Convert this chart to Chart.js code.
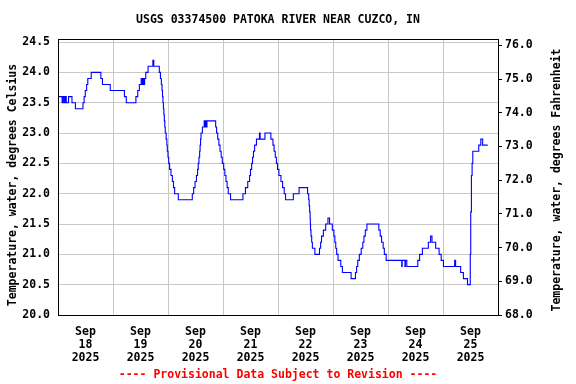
<!DOCTYPE html>
<html>
<head>
<meta charset="utf-8">
<script src="https://cdn.jsdelivr.net/npm/chart.js@4.4.1/dist/chart.umd.min.js"></script>
<style>
  html, body { margin: 0; padding: 0; background: #fff; }
  #grafica { display: block; }
</style>
</head>
<body>
<canvas id="grafica" width="576" height="384"></canvas>
<script>
const stationTitle = "USGS 03374500 PATOKA RIVER NEAR CUZCO, IN";
const leftAxisTitle = "Temperature, water, degrees Celsius";
const rightAxisTitle = "Temperature, water, degrees Fahrenheit";
const footerNote = "---- Provisional Data Subject to Revision ----";

const dayMonth = "Sep";
const dayYear = "2025";
const dayNumbers = ["18", "19", "20", "21", "22", "23", "24", "25"];

// horas desde Sep 18 00:00, y temperatura (°C) desde ese momento
const obsHour = [
  0, 1.8, 2.3, 2.8, 3.3, 3.6, 4.6, 6.1, 7.6, 10.9, 11.4, 11.9, 12.5, 13.0, 14.5, 18.7, 19.4, 22.8,
  29.0, 29.8, 34.0, 34.8, 35.5, 36.3, 36.8, 37.1, 37.5, 37.8, 38.3, 39.3, 41.4, 41.8,
  44.2, 44.7, 45.1, 45.4, 45.6, 45.8, 46.0, 46.2, 46.4, 46.6, 46.8, 47.2, 47.5, 47.7,
  48.0, 48.3, 48.7, 49.3, 49.9, 50.4, 50.9, 52.5, 58.6, 59.2, 59.8, 60.4, 60.9, 61.2,
  61.5, 61.8, 62.0, 62.2, 62.4, 63.0, 63.8, 64.1, 64.4, 64.7, 65.0, 68.8, 69.2, 69.7,
  70.2, 70.7, 71.2, 71.7, 72.3, 72.8, 73.3, 73.8, 74.3, 75.3, 80.7, 81.8, 82.8, 83.6,
  84.0, 84.5, 84.9, 85.3, 85.8, 86.6, 87.9, 88.2, 90.3, 92.9, 93.8, 94.3, 94.8, 95.3,
  95.8, 96.4, 97.3, 98.0, 98.7, 99.3, 102.7, 105.2, 108.9, 109.4, 109.6, 109.8, 110.0,
  110.1, 110.2, 110.4, 110.7, 111.0, 112.1, 114.1, 114.6, 115.0, 115.8, 116.8, 117.8,
  118.5, 119.7, 120.4, 120.8, 121.2, 121.6, 122.2, 123.4, 124.1, 127.9, 129.8, 130.3,
  130.8, 131.5, 132.3, 133.0, 133.5, 134.1, 134.8, 140.0, 140.6, 141.2, 141.9, 142.4,
  143.2, 150.0, 150.2, 151.4, 151.6, 152.2, 157.0, 157.8, 159.0, 161.6, 162.6, 163.2,
  164.8, 166.3, 167.2, 168.2, 173.1, 173.5, 175.7, 176.9, 178.7, 179.9, 180.1, 180.4,
  180.7, 181.0, 183.6, 184.5, 185.3, 187.5
];
const tempC = [
  23.6, 23.5, 23.6, 23.5, 23.6, 23.5, 23.6, 23.5, 23.4, 23.5, 23.6, 23.7, 23.8, 23.9, 24.0, 23.9, 23.8, 23.7,
  23.6, 23.5, 23.6, 23.7, 23.8, 23.9, 23.8, 23.9, 23.8, 23.9, 24.0, 24.1, 24.2, 24.1,
  24.0, 23.9, 23.8, 23.7, 23.6, 23.5, 23.4, 23.3, 23.2, 23.1, 23.0, 22.9, 22.8, 22.7,
  22.6, 22.5, 22.4, 22.3, 22.2, 22.1, 22.0, 21.9, 22.0, 22.1, 22.2, 22.3, 22.4, 22.5,
  22.6, 22.7, 22.8, 22.9, 23.0, 23.1, 23.2, 23.1, 23.2, 23.1, 23.2, 23.1, 23.0, 22.9,
  22.8, 22.7, 22.6, 22.5, 22.4, 22.3, 22.2, 22.1, 22.0, 21.9, 22.0, 22.1, 22.2, 22.3,
  22.4, 22.5, 22.6, 22.7, 22.8, 22.9, 23.0, 22.9, 23.0, 22.9, 22.8, 22.7, 22.6, 22.5,
  22.4, 22.3, 22.2, 22.1, 22.0, 21.9, 22.0, 22.1, 22.0, 21.9, 21.8, 21.7, 21.6,
  21.5, 21.4, 21.3, 21.2, 21.1, 21.0, 21.1, 21.2, 21.3, 21.4, 21.5, 21.6,
  21.5, 21.4, 21.3, 21.2, 21.1, 21.0, 20.9, 20.8, 20.7, 20.6, 20.7, 20.8,
  20.9, 21.0, 21.1, 21.2, 21.3, 21.4, 21.5, 21.4, 21.3, 21.2, 21.1, 21.0,
  20.9, 20.8, 20.9, 20.8, 20.9, 20.8, 20.9, 21.0, 21.1, 21.2, 21.3, 21.2,
  21.1, 21.0, 20.9, 20.8, 20.9, 20.8, 20.7, 20.6, 20.5, 21.0, 21.7, 22.3,
  22.5, 22.7, 22.8, 22.9, 22.8, 22.8
];

const celsiusMin = 20.0;
const celsiusMax = 24.55;
const hourMax = 192;

const fuente = "'DejaVu Sans Mono', 'Liberation Mono', monospace";
const grisGrilla = "#c8c8c8";

// marco negro y títulos de ejes girados (el derecho también se lee de abajo hacia arriba)
const marco = {
  id: "marco",
  afterDraw(chart) {
    const { ctx, chartArea: a } = chart;
    ctx.save();
    ctx.strokeStyle = "#000";
    ctx.lineWidth = 1;
    ctx.strokeRect(a.left + 0.5, a.top + 0.5, a.right - a.left, a.bottom - a.top);

    ctx.fillStyle = "#000";
    ctx.font = "bold 11.5px " + fuente;
    ctx.textAlign = "center";
    ctx.textBaseline = "middle";
    const centroY = (a.top + a.bottom) / 2;

    ctx.save();
    ctx.translate(13, centroY + 8);
    ctx.rotate(-Math.PI / 2);
    ctx.fillText(leftAxisTitle, 0, 0);
    ctx.restore();

    ctx.save();
    ctx.translate(chart.width - 19, centroY + 3);
    ctx.rotate(-Math.PI / 2);
    ctx.fillText(rightAxisTitle, 0, 0);
    ctx.restore();

    ctx.restore();
  }
};

const ctx = document.getElementById("grafica").getContext("2d");
const chart = new Chart(ctx, {
  type: "line",
  data: {
    datasets: [{
      data: obsHour.map((h, i) => ({ x: h, y: tempC[i] })),
      borderColor: "#0000ff",
      borderWidth: 1.1,
      pointRadius: 0,
      stepped: "before",
      fill: false,
      yAxisID: "y"
    }]
  },
  options: {
    responsive: false,
    animation: false,
    layout: { padding: 0 },
    plugins: {
      legend: { display: false },
      tooltip: { enabled: false },
      title: {
        display: true,
        fullSize: false,
        text: stationTitle,
        color: "#000",
        font: { family: fuente, size: 11.5, weight: "bold", lineHeight: 1.2 },
        padding: { top: 13, bottom: 12.2 }
      }
    },
    scales: {
      x: {
        type: "linear",
        min: 0,
        max: hourMax,
        afterFit: (scale) => { scale.height = 69; },
        border: { display: true, color: "#000", width: 1 },
        grid: {
          drawTicks: false,
          color: (c) => (c.tick && c.tick.value % 24 === 0) ? grisGrilla : "rgba(0,0,0,0)"
        },
        ticks: {
          stepSize: 12,
          autoSkip: false,
          maxRotation: 0,
          padding: 11,
          color: "#000",
          font: { family: fuente, size: 11.5, weight: "bold", lineHeight: 1.1 },
          callback: (value) => {
            if (value % 24 !== 12) return "";
            return [dayMonth, dayNumbers[Math.floor(value / 24)], dayYear];
          }
        },
        title: {
          display: true,
          text: footerNote,
          color: "#ff0000",
          font: { family: fuente, size: 11.5, weight: "bold", lineHeight: 1.1 },
          padding: { top: 0, bottom: 3 }
        }
      },
      y: {
        position: "left",
        min: celsiusMin,
        max: celsiusMax,
        afterFit: (scale) => { scale.width = 58; },
        border: { display: true, color: "#000", width: 1 },
        grid: { color: grisGrilla, drawTicks: false },
        ticks: {
          stepSize: 0.5,
          includeBounds: false,
          padding: 8,
          color: "#000",
          font: { family: fuente, size: 11.5, weight: "bold" },
          callback: (v) => Number(v).toFixed(1)
        }
      },
      y1: {
        position: "right",
        min: 32 + celsiusMin * 1.8,
        max: 32 + celsiusMax * 1.8,
        afterFit: (scale) => { scale.width = 78; },
        border: { display: true, color: "#000", width: 1 },
        grid: { drawOnChartArea: false, color: "#000", tickLength: 4 },
        ticks: {
          stepSize: 1,
          includeBounds: false,
          padding: 3,
          color: "#000",
          font: { family: fuente, size: 11.5, weight: "bold" },
          callback: (v) => Number(v).toFixed(1)
        }
      }
    }
  },
  plugins: [marco]
});
</script>
</body>
</html>
